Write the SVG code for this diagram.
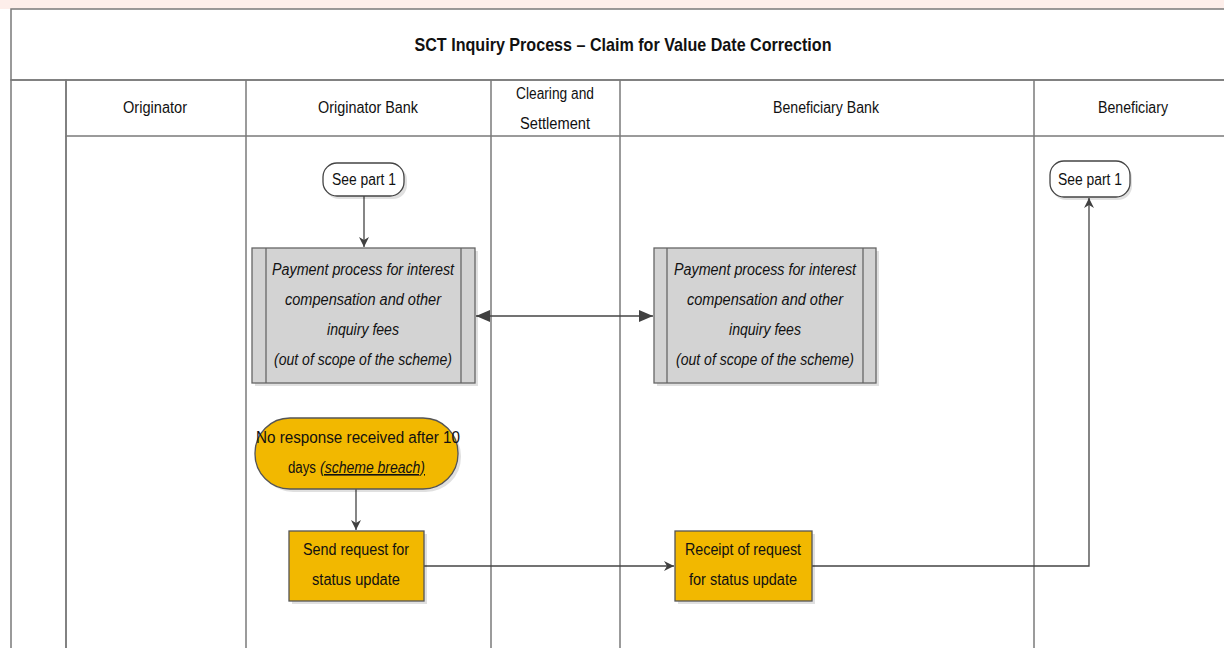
<svg xmlns="http://www.w3.org/2000/svg" width="1224" height="648" viewBox="0 0 1224 648">
<defs>
<linearGradient id="gHead" x1="0" y1="0" x2="0" y2="1"><stop offset="0" stop-color="#ffffff"/><stop offset="1" stop-color="#e4e4e4"/></linearGradient>
<linearGradient id="gSide" x1="0" y1="0" x2="1" y2="0"><stop offset="0" stop-color="#ffffff"/><stop offset="1" stop-color="#e8e8e8"/></linearGradient>
<marker id="arr" viewBox="0 0 10 10" refX="10" refY="5" markerWidth="10" markerHeight="10" markerUnits="userSpaceOnUse" orient="auto-start-reverse"><path d="M0,0 L10,5 L0,10 L3,5 Z" fill="#404040"/></marker>
<marker id="arrB" viewBox="0 0 14 12" refX="14" refY="6" markerWidth="14" markerHeight="12" markerUnits="userSpaceOnUse" orient="auto-start-reverse"><path d="M0,0 L14,6 L0,12 Z" fill="#404040"/></marker>
</defs>
<style>
.frame{fill:none;stroke:#7a7a7a;stroke-width:1.5}
.lane{stroke:#7a7a7a;stroke-width:1.5}
.t{font-family:"Liberation Sans",Arial,sans-serif;fill:#111;text-anchor:middle}
.s{text-anchor:start}
.h{font-size:16px}
.it{font-size:16px;font-style:italic}
.b{font-size:16px}
.term{fill:#ffffff;stroke:#444;stroke-width:1.3}
.proc{fill:#d3d3d3;stroke:#666;stroke-width:1.3}
.yel{fill:#f2b800;stroke:#555;stroke-width:1.3}
.sh{fill:#000;opacity:0.12}
.conn{fill:none;stroke:#444;stroke-width:1.3}
</style>
<rect x="0" y="0" width="1224" height="648" fill="#ffffff"/>
<rect x="0" y="0" width="1224" height="9" fill="#fdeeea"/>
<g id="pool">
<rect x="11" y="9" width="1220" height="71" fill="url(#gHead)" class="frame"/>
<text class="t" x="623" y="51" font-size="19" font-weight="bold" textLength="417" lengthAdjust="spacingAndGlyphs">SCT Inquiry Process – Claim for Value Date Correction</text>
<rect x="11" y="80" width="55" height="575" fill="url(#gSide)" class="frame"/>
<rect x="66" y="80" width="1165" height="56" fill="url(#gHead)" class="frame"/>
<line class="lane" x1="66" y1="136" x2="66" y2="648"/>
<line class="lane" x1="246" y1="80" x2="246" y2="648"/>
<line class="lane" x1="491" y1="80" x2="491" y2="648"/>
<line class="lane" x1="620" y1="80" x2="620" y2="648"/>
<line class="lane" x1="1034" y1="80" x2="1034" y2="648"/>
<text class="t h" x="155" y="113" textLength="64" lengthAdjust="spacingAndGlyphs">Originator</text>
<text class="t h" x="368" y="113" textLength="100" lengthAdjust="spacingAndGlyphs">Originator Bank</text>
<text class="t h" x="555" y="99" textLength="78" lengthAdjust="spacingAndGlyphs">Clearing and</text>
<text class="t h" x="555" y="129" textLength="70" lengthAdjust="spacingAndGlyphs">Settlement</text>
<text class="t h" x="826" y="113" textLength="106" lengthAdjust="spacingAndGlyphs">Beneficiary Bank</text>
<text class="t h" x="1133" y="113" textLength="70" lengthAdjust="spacingAndGlyphs">Beneficiary</text>
</g>
<g id="connectors">
<line class="conn" x1="364" y1="196" x2="364" y2="247" marker-end="url(#arr)"/>
<line class="conn" x1="476" y1="316" x2="653" y2="316" marker-start="url(#arrB)" marker-end="url(#arrB)"/>
<line class="conn" x1="356" y1="489" x2="356" y2="530" marker-end="url(#arr)"/>
<line class="conn" x1="424" y1="566" x2="674" y2="566" marker-end="url(#arr)"/>
<polyline class="conn" points="812,566 1089,566 1089,198" marker-end="url(#arr)"/>
</g>
<g id="seepart1-left">
<rect class="sh" x="325" y="166" width="82" height="33" rx="14"/>
<rect class="term" x="323" y="163" width="81" height="33" rx="14"/>
<text class="t b" x="364" y="185" textLength="64" lengthAdjust="spacingAndGlyphs">See part 1</text>
</g>
<g id="proc-left">
<rect class="sh" x="255" y="251" width="223" height="135"/>
<rect class="proc" x="252" y="248" width="223" height="135"/>
<line x1="266" y1="248" x2="266" y2="383" stroke="#666" stroke-width="1.3"/>
<line x1="461" y1="248" x2="461" y2="383" stroke="#666" stroke-width="1.3"/>
<text class="t it" x="363" y="275" textLength="182" lengthAdjust="spacingAndGlyphs">Payment process for interest</text>
<text class="t it" x="363" y="305" textLength="156" lengthAdjust="spacingAndGlyphs">compensation and other</text>
<text class="t it" x="363" y="335" textLength="72" lengthAdjust="spacingAndGlyphs">inquiry fees</text>
<text class="t it" x="363" y="365" textLength="178" lengthAdjust="spacingAndGlyphs">(out of scope of the scheme)</text>
</g>
<g id="proc-right">
<rect class="sh" x="657" y="251" width="222" height="135"/>
<rect class="proc" x="654" y="248" width="222" height="135"/>
<line x1="667" y1="248" x2="667" y2="383" stroke="#666" stroke-width="1.3"/>
<line x1="863" y1="248" x2="863" y2="383" stroke="#666" stroke-width="1.3"/>
<text class="t it" x="765" y="275" textLength="182" lengthAdjust="spacingAndGlyphs">Payment process for interest</text>
<text class="t it" x="765" y="305" textLength="156" lengthAdjust="spacingAndGlyphs">compensation and other</text>
<text class="t it" x="765" y="335" textLength="72" lengthAdjust="spacingAndGlyphs">inquiry fees</text>
<text class="t it" x="765" y="365" textLength="178" lengthAdjust="spacingAndGlyphs">(out of scope of the scheme)</text>
</g>
<g id="no-response">
<rect class="sh" x="258" y="421" width="203" height="71" rx="35"/>
<rect class="yel" x="255" y="418" width="203" height="71" rx="35"/>
<text class="t b" x="358" y="443" textLength="204" lengthAdjust="spacingAndGlyphs">No response received after 10</text>
<text class="t b s" x="288" y="473" textLength="28" lengthAdjust="spacingAndGlyphs">days</text>
<text class="t b s" x="320" y="473" font-style="italic" text-decoration="underline" textLength="105" lengthAdjust="spacingAndGlyphs">(scheme breach)</text>
</g>
<g id="send-request">
<rect class="sh" x="292" y="534" width="135" height="70"/>
<rect class="yel" x="289" y="531" width="135" height="70"/>
<text class="t b" x="356" y="555" textLength="106" lengthAdjust="spacingAndGlyphs">Send request for</text>
<text class="t b" x="356" y="585" textLength="88" lengthAdjust="spacingAndGlyphs">status update</text>
</g>
<g id="receipt-request">
<rect class="sh" x="678" y="534" width="137" height="70"/>
<rect class="yel" x="675" y="531" width="137" height="70"/>
<text class="t b" x="743" y="555" textLength="116" lengthAdjust="spacingAndGlyphs">Receipt of request</text>
<text class="t b" x="743" y="585" textLength="108" lengthAdjust="spacingAndGlyphs">for status update</text>
</g>
<g id="seepart1-right">
<rect class="sh" x="1052" y="164" width="80" height="36" rx="14"/>
<rect class="term" x="1050" y="161" width="80" height="36" rx="14"/>
<text class="t b" x="1090" y="185" textLength="64" lengthAdjust="spacingAndGlyphs">See part 1</text>
</g>
</svg>
